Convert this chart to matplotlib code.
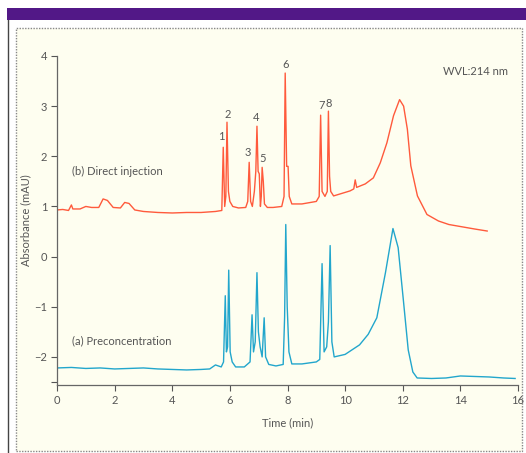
import matplotlib
matplotlib.use("Agg")
import matplotlib.pyplot as plt
from matplotlib.patches import Rectangle
from matplotlib.lines import Line2D

# (b) direct injection trace
t_direct = [0.0, 0.2, 0.4, 0.5, 0.55, 0.8, 1.0, 1.2, 1.45, 1.6, 1.75, 1.95, 2.2, 2.35, 2.5, 2.7,
            3.0, 3.5, 4.0, 4.5, 5.0, 5.5, 5.72, 5.77, 5.82, 5.86, 5.9, 5.95, 6.0, 6.1, 6.3,
            6.55, 6.62, 6.67, 6.72, 6.78, 6.85, 6.9, 6.94, 6.98, 7.02, 7.06, 7.09, 7.12, 7.16,
            7.2, 7.3, 7.5, 7.8, 7.88, 7.92, 7.97, 8.02, 8.06, 8.15, 8.5, 9.0, 9.1, 9.15, 9.2,
            9.3, 9.38, 9.42, 9.46, 9.5, 9.6, 10.17, 10.3, 10.35, 10.4, 10.7, 10.98, 11.22,
            11.45, 11.68, 11.89, 12.03, 12.16, 12.28, 12.51, 12.84, 13.24, 13.6, 14.0, 14.5, 14.93]
a_direct = [0.93, 0.94, 0.92, 1.03, 0.95, 0.95, 1.0, 0.98, 0.98, 1.15, 1.12, 0.98, 0.97, 1.08, 1.06, 0.93,
            0.9, 0.88, 0.87, 0.88, 0.88, 0.9, 0.92, 2.18, 1.0, 1.2, 2.68, 1.3, 1.1, 1.0, 0.97,
            0.98, 1.1, 1.88, 1.1, 1.0, 1.3, 1.7, 2.6, 1.7, 1.65, 1.0, 1.2, 1.78, 1.5,
            1.05, 0.98, 0.98, 1.0, 1.2, 3.66, 1.8, 1.8, 1.2, 1.05, 1.05, 1.1, 1.2, 2.82, 1.3,
            1.2, 1.3, 2.9, 1.6, 1.3, 1.21, 1.31, 1.35, 1.53, 1.38, 1.45, 1.57, 1.87,
            2.27, 2.81, 3.13, 3.0, 2.54, 1.81, 1.21, 0.84, 0.71, 0.64, 0.6, 0.55, 0.51]

# (a) preconcentration trace
t_precon = [0.0, 0.5, 1.0, 1.5, 2.0, 2.5, 3.0, 3.5, 4.0, 4.5, 5.0, 5.3, 5.5, 5.7, 5.78, 5.84,
            5.88, 5.92, 5.96, 6.01, 6.08, 6.2, 6.5, 6.7, 6.77, 6.82, 6.88, 6.94, 6.99, 7.05,
            7.12, 7.19, 7.24, 7.35, 7.6, 7.85, 7.9, 7.94, 7.99, 8.05, 8.15, 8.5, 9.0, 9.12,
            9.2, 9.27, 9.36, 9.42, 9.48, 9.54, 9.62, 10.0, 10.5, 10.8, 11.1, 11.4, 11.66,
            11.84, 12.02, 12.19, 12.35, 12.5, 13.0, 13.5, 14.0, 14.5, 15.0, 15.5, 15.9]
a_precon = [-2.22, -2.21, -2.23, -2.22, -2.24, -2.23, -2.22, -2.24, -2.25, -2.26, -2.25, -2.24, -2.16, -2.2, -2.1, -0.78,
            -1.9, -1.8, -0.27, -1.9, -2.1, -2.2, -2.2, -2.1, -1.16, -1.9, -1.7, -0.32, -1.5, -1.8,
            -2.0, -1.22, -2.0, -2.15, -2.18, -2.15, -1.2, 0.64, -1.0, -1.9, -2.14, -2.14, -2.1, -2.05,
            -0.14, -1.9, -1.8, -1.3, 0.22, -1.7, -2.0, -1.95, -1.76, -1.55, -1.22, -0.32, 0.56,
            0.18, -0.86, -1.86, -2.3, -2.42, -2.43, -2.42, -2.38, -2.39, -2.4, -2.42, -2.43]

peak_labels = ["1", "2", "3", "4", "5", "6", "7", "8"]
peak_t = [5.7, 5.94, 6.63, 6.91, 7.15, 7.92, 9.17, 9.44]
peak_y = [2.4, 2.84, 2.08, 2.78, 1.96, 3.84, 3.02, 3.06]

red = "#ff5a3c"
blue = "#22a6cc"
grey = "#555555"
font = ["Lato", "DejaVu Sans"]
plt.rcParams["font.family"] = font

fig = plt.figure(figsize=(5.26, 4.53), dpi=100)
W, H = 526.0, 453.0

def px(x0, y0, x1, y1):
    return (x0 / W, 1 - y1 / H), (x1 - x0) / W, (y1 - y0) / H

# frame decorations behind the axes
xy, w, h = px(16, 28, 522, 451)
fig.patches.append(Rectangle(xy, w, h, transform=fig.transFigure, facecolor="#fefef0",
                             edgecolor="#888888", lw=1.0, ls=(0, (1, 1)), zorder=-3))
xy, w, h = px(7, 8, 526, 20)
fig.patches.append(Rectangle(xy, w, h, transform=fig.transFigure, facecolor="#521887",
                             edgecolor="none", zorder=-2))
fig.lines.append(Line2D([7.5 / W, 7.5 / W], [0, 1 - 20 / H], transform=fig.transFigure,
                        color="#444444", lw=1.0, zorder=-2))

ax = fig.add_axes([57 / W, 1 - 385 / H, (518 - 57) / W, (385 - 56) / H])
ax.set_zorder(1)
ax.patch.set_visible(False)

ax.plot(t_direct, a_direct, color=red, lw=1.0)
ax.plot(t_precon, a_precon, color=blue, lw=1.0)

for lab, x, y in zip(peak_labels, peak_t, peak_y):
    ax.text(x, y, lab, color=grey, fontsize=8, ha="center", va="center")

ax.text(0.52, 1.7, "(b) Direct injection", color=grey, fontsize=8, va="center")
ax.text(0.52, -1.68, "(a) Preconcentration", color=grey, fontsize=8, va="center")
ax.text(15.66, 3.7, "WVL:214 nm", color=grey, fontsize=8, ha="right", va="center")

ax.set_xlim(0, 16)
ax.set_ylim(-2.56, 4)
ax.set_xticks(range(0, 17, 2))
ax.set_xticklabels([str(v) for v in range(0, 17, 2)])
ax.set_yticks([-2, -1, 0, 1, 2, 3, 4])
ax.set_yticklabels(["\u22122", "\u22121", "0", "1", "2", "3", "4"])
ax.set_yticks([-2.5], minor=True)
ax.tick_params(colors=grey, labelsize=8, length=4, width=0.8, direction="out", pad=3)
ax.tick_params(which="minor", length=4, width=0.8, color=grey)
for s in ["top", "right"]:
    ax.spines[s].set_visible(False)
for s in ["left", "bottom"]:
    ax.spines[s].set_color("#666666")
    ax.spines[s].set_linewidth(0.9)

ax.set_xlabel("Time (min)", color=grey, fontsize=8, labelpad=8)
ax.set_ylabel("Absorbance (mAU)", color=grey, fontsize=8, labelpad=2)

fig.savefig("out.png", dpi=100)
